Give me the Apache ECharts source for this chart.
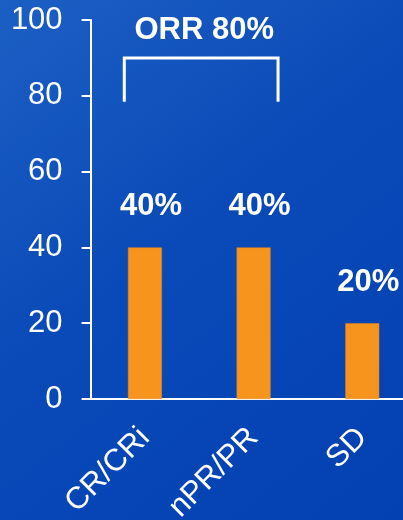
<!DOCTYPE html>
<html>
<head>
<meta charset="utf-8">
<style>
  html, body { margin: 0; padding: 0; }
  #chart { width: 403px; height: 520px; }
</style>
<script src="https://cdn.jsdelivr.net/npm/echarts@6/dist/echarts.min.js"></script>
</head>
<body>
<div id="chart"></div>
<script>
// Response categories and the share of patients in each (percent)
const categories = ['CR/CRi', 'nPR/PR', 'SD'];
const responseRates = [40, 40, 20];
const yTicks = [0, 20, 40, 60, 80, 100];

// Overall response bracket spanning the first two categories
const orrSpan = [0, 1];
const orrRate = 80;
const orrBracket = { top: 90, legBottom: 78.4 };

const WHITE = '#ffffff';
const FONT = '"Liberation Sans", Arial, sans-serif';

const chart = echarts.init(document.getElementById('chart'), null, { renderer: 'canvas' });

chart.setOption({
  animation: false,
  backgroundColor: {
    type: 'linear', x: 0, y: 0, x2: 1, y2: 1,
    colorStops: [
      { offset: 0, color: '#1c5fc4' },
      { offset: 0.45, color: '#0a4ab8' },
      { offset: 1, color: '#0340b2' }
    ]
  },
  grid: {
    left: 90.6, width: 326, top: 20, bottom: 121,
    containLabel: false, outerBoundsMode: 'none'
  },
  xAxis: {
    type: 'category',
    data: categories,
    axisLine: { show: true, lineStyle: { color: WHITE, width: 2 } },
    axisTick: { show: false },
    axisLabel: {
      color: WHITE, fontFamily: FONT, fontSize: 31, rotate: 45,
      margin: 34, interval: 0
    }
  },
  yAxis: {
    type: 'value',
    min: yTicks[0],
    max: yTicks[yTicks.length - 1],
    interval: yTicks[1] - yTicks[0],
    axisLine: { show: true, lineStyle: { color: WHITE, width: 2 } },
    axisTick: { show: true, length: 9, lineStyle: { color: WHITE, width: 2 } },
    splitLine: { show: false },
    axisLabel: { color: WHITE, fontFamily: FONT, fontSize: 31, margin: 28 }
  },
  series: [
    {
      type: 'bar',
      data: responseRates,
      barWidth: 34,
      itemStyle: { color: '#f7941d', borderColor: '#e0841a', borderWidth: 0.5 },
      label: {
        show: true, position: 'top', distance: 25, offset: [6, 0],
        color: WHITE, fontFamily: FONT, fontSize: 31, fontWeight: 'bold',
        formatter: p => p.value + '%'
      }
    },
    {
      // Bracket with the overall response rate above the first two bars
      type: 'custom',
      data: [[orrSpan[0], orrSpan[1], orrBracket.top, orrBracket.legBottom, orrRate]],
      renderItem: (params, api) => {
        const a = api.coord([api.value(0), api.value(2)]);
        const b = api.coord([api.value(1), api.value(2)]);
        const band = api.size([1, 0])[0];
        const bottomY = api.coord([api.value(0), api.value(3)])[1];
        const x1 = a[0] - band * 0.19, x2 = b[0] + band * 0.225;
        return {
          type: 'group',
          children: [
            {
              type: 'polyline',
              shape: { points: [[x1, bottomY], [x1, a[1]], [x2, a[1]], [x2, bottomY]] },
              style: { stroke: WHITE, lineWidth: 3, fill: null }
            },
            {
              type: 'text',
              style: {
                text: 'ORR ' + api.value(4) + '%',
                x: (x1 + x2) / 2 + 3, y: a[1] - 12,
                align: 'center', verticalAlign: 'bottom',
                fill: WHITE, font: 'bold 31px ' + FONT
              }
            }
          ]
        };
      },
      z: 5
    }
  ]
});
</script>
</body>
</html>
